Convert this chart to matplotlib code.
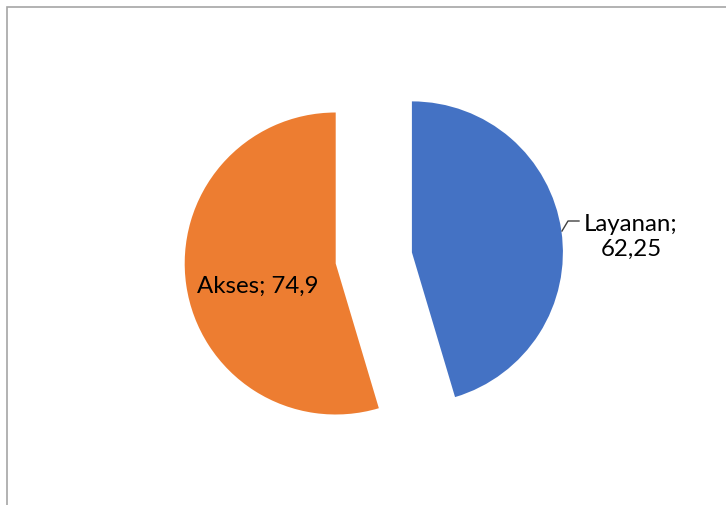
import matplotlib.pyplot as plt
from matplotlib.patches import Rectangle

labels = ['Layanan', 'Akses']
values = [62.25, 74.9]
colors = ['#4472C4', '#ED7D31']
explode = [0.51, 0]  # fraction of radius

W, H = 726, 506
fig = plt.figure(figsize=(W / 100, H / 100), dpi=100)
ax = fig.add_axes([0, 0, 1, 1])

# pixel coords, y flipped
cx, cy, r = 335.7, H - 264.5, 151

# matplotlib's explode is in data units, so scale by radius
ax.pie(values, colors=colors, explode=[e * r for e in explode], startangle=90,
       counterclock=False, radius=r, center=(cx, cy), wedgeprops={'linewidth': 0})

ax.set_xlim(0, W)
ax.set_ylim(0, H)
ax.set_aspect('equal')
ax.axis('off')

# chart border (only top/left visible)
ax.add_patch(Rectangle((7, -10), W + 20, H - 8 + 10, fill=False, edgecolor='#A6A6A6',
                       linewidth=1.2, clip_on=False))

font = dict(family=['Lato', 'DejaVu Sans'], fontsize=17.3, color='black')
lab = [f"{l};\n{str(v).replace('.', ',')}" for l, v in zip(labels, values)]

ax.text(631, H - 237, lab[0], ha='center', va='center', multialignment='center',
        linespacing=1.25, **font)
ax.text(258, H - 286, lab[1].replace('\n', ' '), ha='center', va='center', **font)

# leader line for Layanan
ax.plot([562, 568, 579], [H - 232, H - 222, H - 222], color='#404040', linewidth=1)

fig.savefig('out.png', dpi=100)
